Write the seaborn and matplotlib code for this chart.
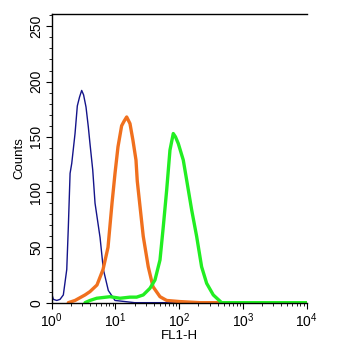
import matplotlib
matplotlib.use('Agg')
import matplotlib.pyplot as plt
import matplotlib.ticker as mticker
import pandas as pd
import seaborn as sns

# histogram traces (FL1-H channel value, counts)
blue_x = [1.0, 1.06, 1.2, 1.35, 1.52, 1.72, 1.82, 1.94, 2.06, 2.32, 2.52, 2.73, 2.95,
          3.16, 3.45, 3.75, 3.98, 4.4, 4.78, 5.73, 6.46, 7.73, 9.84, 14.1, 20, 100, 1000, 10000]
blue_y = [8, 3, 2, 3, 7, 30, 68, 117, 126, 153, 178, 186, 192,
          188, 177, 159, 144, 120, 90, 59, 30, 11, 2, 1, 0, 0, 0, 0]

orange_x = [1.82, 2.32, 2.78, 3.33, 3.98, 5.13, 6.38, 7.64, 8.83, 9.84, 10.96, 12.5, 13.6,
            15.0, 16.9, 18.8, 21.0, 22.0, 27.3, 32.7, 38.8, 50, 63.7, 102, 213, 1000, 10000]
orange_y = [0, 2, 4.5, 7, 10, 16, 30, 50, 90, 117, 141, 160, 164,
            168, 162, 147, 129, 110, 60, 32.5, 14.5, 5.4, 2, 1, 0, 0, 0]

green_x = [3.33, 3.98, 5.08, 8.22, 11.8, 16.9, 21.5, 27.3, 34.8, 41.7, 50, 56.3, 63.7,
           71.7, 80.8, 87.5, 96.8, 116, 131, 157, 188, 225, 270, 343, 464, 1000, 10000]
green_y = [0, 2, 4, 5.4, 4, 5, 5, 7, 13, 20.5, 38.6, 68.6, 102,
           138, 153, 150, 144, 129, 111, 84, 60, 32.5, 17.5, 7, 0, 0, 0]

sns.set_style('ticks')
plt.rcParams['font.family'] = ['Liberation Sans', 'DejaVu Sans']

fig = plt.figure(figsize=(3.52, 3.54), dpi=100)
ax = fig.add_axes([0.147, 0.145, 0.724, 0.815])

traces = [
    (blue_x, blue_y, '#14148a', 1.0),
    (orange_x, orange_y, '#f0701e', 2.4),
    (green_x, green_y, '#22ee22', 2.4),
]
for xs, ys, color, lw in traces:
    df = pd.DataFrame({'FL1-H': xs, 'Counts': ys})
    sns.lineplot(data=df, x='FL1-H', y='Counts', color=color, linewidth=lw, ax=ax,
                 estimator=None, sort=False)

ax.set_xscale('log')
ax.set_xlim(1, 10000)
ax.set_ylim(0, 261)
ax.xaxis.set_major_locator(mticker.LogLocator(base=10, numticks=10))
ax.xaxis.set_minor_locator(mticker.LogLocator(base=10, subs=range(2, 10), numticks=10))
ax.xaxis.set_major_formatter(mticker.LogFormatterMathtext())
ax.xaxis.set_minor_formatter(mticker.NullFormatter())
ax.yaxis.set_major_locator(mticker.MultipleLocator(50))
ax.yaxis.set_minor_locator(mticker.MultipleLocator(10))

ax.tick_params(axis='both', which='major', length=4, width=0.8, labelsize=10, pad=2,
               colors='black')
ax.tick_params(axis='both', which='minor', length=2.5, width=0.6, colors='black')
for lab in ax.get_yticklabels():
    lab.set_rotation(90)
    lab.set_va('center')

ax.spines['right'].set_visible(False)
for s in ['left', 'top', 'bottom']:
    ax.spines[s].set_linewidth(1.0)
    ax.spines[s].set_color('black')

ax.set_xlabel('FL1-H', fontsize=9.5, labelpad=0, color='black')
ax.set_ylabel('Counts', fontsize=9.5, labelpad=3, color='black')

fig.savefig('out.png', dpi=100)
